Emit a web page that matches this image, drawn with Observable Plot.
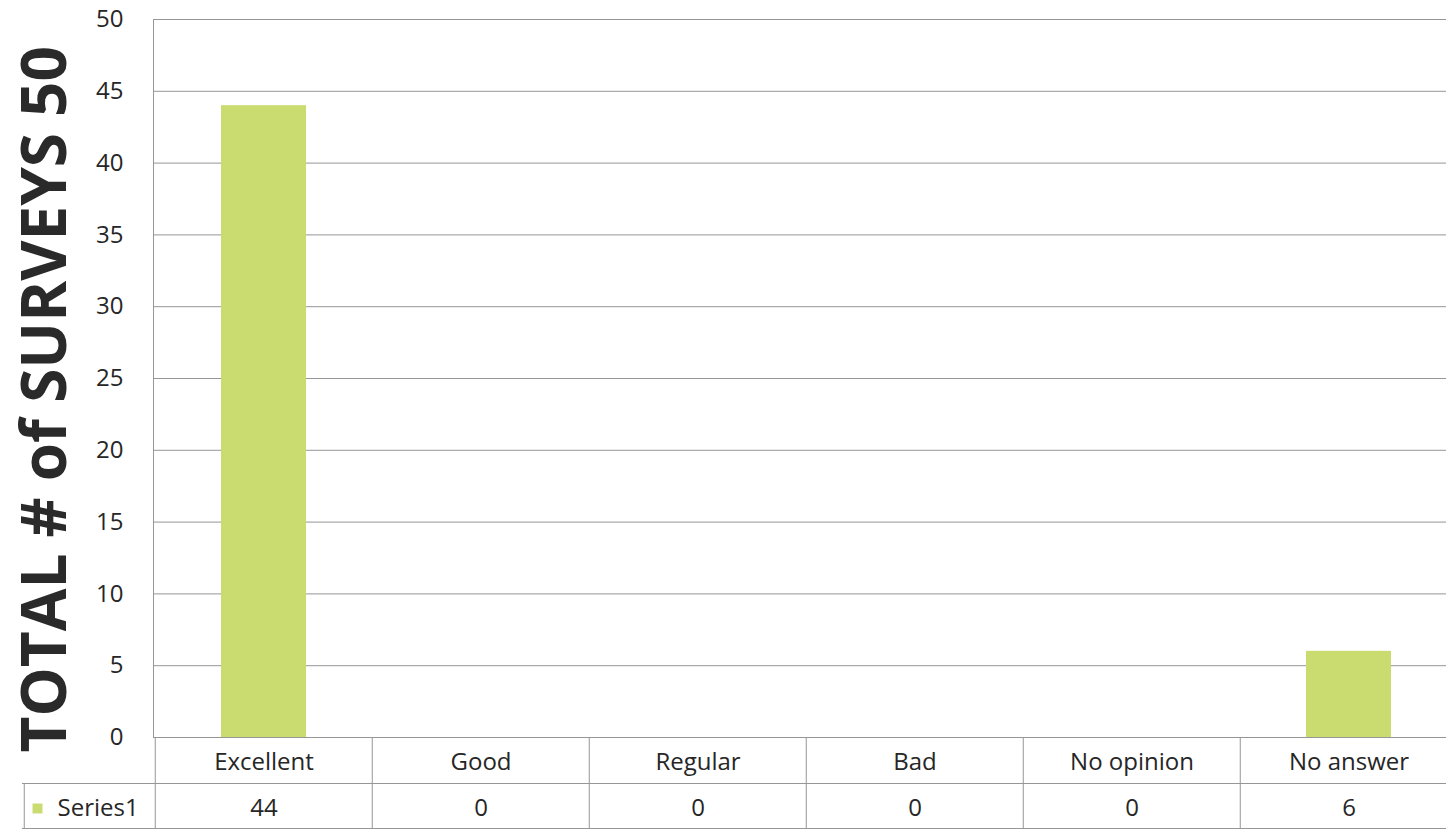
<!DOCTYPE html>
<html>
<head>
<meta charset="utf-8">
<script src="https://cdn.jsdelivr.net/npm/d3@7"></script>
<script src="https://cdn.jsdelivr.net/npm/@observablehq/plot@0.6"></script>
<style>
  html, body { margin: 0; padding: 0; background: #fff; overflow: hidden; width: 1446px; }
  #chart svg { display: block; overflow: hidden; }
</style>
</head>
<body>
<div id="chart"></div>
<script>
// ---- data ----
const categories = ["Excellent", "Good", "Regular", "Bad", "No opinion", "No answer"];
const values = [44, 0, 0, 0, 0, 6];
const yTicks = [0, 5, 10, 15, 20, 25, 30, 35, 40, 45, 50];
const seriesName = "Series1";
const yTitle = "TOTAL # of SURVEYS 50";

const data = categories.map((c, i) => ({category: c, value: values[i]}));

// ---- layout / style ----
const W = 1446, H = 830, ML = 153, MR = -12, MT = 19, MB = 93;
const step = (W - ML - MR) / categories.length;
const barColor = "#cadb70";
const lineColor = "#969696";
const textColor = "#262626";
const font = "'Open Sans', 'Noto Sans', sans-serif";

const chart = Plot.plot({
  width: W, height: H,
  marginLeft: ML, marginRight: MR, marginTop: MT, marginBottom: MB,
  style: {fontFamily: font, background: "white", overflow: "hidden"},
  x: {domain: categories, paddingInner: 0.61, paddingOuter: 0.305, label: null},
  y: {domain: [0, 50], label: null},
  marks: [
    Plot.gridY(yTicks, {stroke: lineColor, strokeOpacity: 1}),
    Plot.frame({stroke: lineColor}),
    Plot.barY(data, {x: "category", y: "value", fill: barColor}),
    Plot.axisY(yTicks, {tickSize: 0, tickPadding: 30, fontSize: 24, fill: textColor, label: null}),
    Plot.axisX({tickSize: 0, tickPadding: 15, fontSize: 24, fill: textColor, label: null}),
    // data table grid
    Plot.axisX({tickSize: 91, dx: -step / 2, text: null, label: null, stroke: lineColor, strokeOpacity: 1}),
    Plot.axisX([categories[0]], {tickSize: 45, dx: -step / 2 - 131, dy: 46, text: null, label: null, stroke: lineColor, strokeOpacity: 1}),
    Plot.ruleY([0], {dy: 46, stroke: lineColor}),
    Plot.ruleY([0], {dy: 46, dx: -131, stroke: lineColor}),
    Plot.ruleY([0], {dy: 91, stroke: lineColor}),
    Plot.ruleY([0], {dy: 91, dx: -131, stroke: lineColor}),
    // table values row
    Plot.text(data, {x: "category", text: d => String(d.value), frameAnchor: "bottom", dy: 71, lineAnchor: "middle", fontSize: 24, fill: textColor}),
    Plot.dot([seriesName], {frameAnchor: "bottom-left", dx: -116, dy: 71, symbol: "square", r: 5.6, fill: barColor, stroke: null}),
    Plot.text([seriesName], {text: d => d, frameAnchor: "bottom-left", textAnchor: "start", dx: -96, dy: 71, lineAnchor: "middle", fontSize: 24, fill: textColor}),
    // y-axis title
    Plot.text([yTitle], {text: d => d, frameAnchor: "left", rotate: -90, textAnchor: "start", dx: -107, dy: 374, fontSize: 62, fontWeight: "bold", fill: "#2a2a2a", ariaLabel: "ytitle"})
  ]
});

document.getElementById("chart").appendChild(chart);
d3.select(chart).selectAll('g[aria-label="ytitle"] text')
  .attr("textLength", 718)
  .attr("lengthAdjust", "spacingAndGlyphs");
</script>
</body>
</html>
